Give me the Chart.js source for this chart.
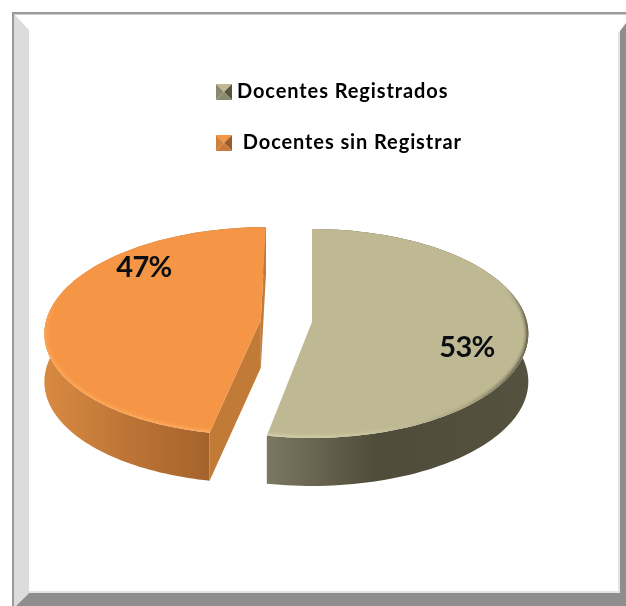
<!DOCTYPE html>
<html>
<head>
<meta charset="utf-8">
<style>html,body{margin:0;padding:0;background:#fff}canvas{display:block}</style>
<script src="https://cdn.jsdelivr.net/npm/chart.js@4"></script>
</head>
<body>
<canvas id="c" width="626" height="606" style="width:626px;height:606px"></canvas>
<script>
const categories = ['Docentes Registrados', ' Docentes sin Registrar'];
const values = [53, 47];
const topColors = ['#bfb993', '#f59646'];
const explodeShare = [0, 0.107];
const labelSpots = [[467, 348], [144, 268]];

const view = {cx: 312, cy: 322, rx: 215, ry: 103.2, k: 0.11, depth: 48};
function project(u, v, d) {
  const w = 1 - view.k * v;
  return [view.cx + view.rx * u / w, view.cy + view.ry * v / w + d];
}
function rimPoints(arc, d) {
  const R = arc.outerRadius, off = (arc.options.offset || 0) / R;
  const mid = (arc.startAngle + arc.endAngle) / 2;
  const ou = Math.cos(mid) * off, ov = Math.sin(mid) * off;
  const pts = [], n = 120;
  for (let i = 0; i <= n; i++) {
    const a = arc.startAngle + (arc.endAngle - arc.startAngle) * i / n;
    pts.push(project(Math.cos(a) + ou, Math.sin(a) + ov, d));
  }
  return {pts, apex: project(ou, ov, d)};
}
function poly(ctx, pts) {
  ctx.beginPath();
  pts.forEach((p, i) => i ? ctx.lineTo(p[0], p[1]) : ctx.moveTo(p[0], p[1]));
  ctx.closePath();
}
function grad(ctx, x0, x1, stops) {
  const g = ctx.createLinearGradient(x0, 0, x1, 0);
  stops.forEach(s => g.addColorStop(s[0], s[1]));
  return g;
}
const wallStyles = [
  c => grad(c, 268, 526, [[0, '#7b7761'], [0.42, '#4f4c3b'], [1, '#54513f']]),
  c => grad(c, 43, 209, [[0, '#d98a42'], [0.5, '#bd7536'], [1, '#a5632c']])
];
const rimStyles = [
  c => grad(c, 268, 528, [[0, '#dcd8b4'], [0.45, '#c9c4a0'], [0.75, '#a29d7c'], [1, '#3c3a2b']]),
  c => grad(c, 43, 209, [[0, '#ffab5c'], [1, '#ffb066']])
];
const rimFadeFrom = [285, 295];
const cutColors = ['#4f4c3b', '#c27a37'];

function bevelMarker(top, right, left, bottom) {
  const m = document.createElement('canvas');
  m.width = 16; m.height = 16;
  const c = m.getContext('2d');
  const tri = (pts, col) => { c.fillStyle = col; poly(c, pts); c.fill(); };
  tri([[0,0],[16,0],[8,8]], top);
  tri([[0,0],[0,16],[8,8]], left);
  tri([[16,0],[16,16],[8,8]], right);
  tri([[0,16],[16,16],[8,8]], bottom);
  return m;
}
const markers = [
  bevelMarker('#bfb993', '#57543f', '#8c8870', '#8a8870'),
  bevelMarker('#f59646', '#9c5c28', '#d0813b', '#c9793a')
];

const scenePlugin = {
  id: 'scene',
  beforeDraw(chart) {
    const c = chart.ctx;
    c.save();
    c.fillStyle = '#ffffff'; c.fillRect(0, 0, 626, 606);
    c.fillStyle = '#dcdcdc'; poly(c, [[14,14],[29,30],[29,593],[16,606],[14,606]]); c.fill();
    c.fillStyle = '#8e8e8e'; poly(c, [[29,593],[620,593],[620,31],[626,23],[626,606],[16,606]]); c.fill();
    c.fillStyle = '#e4e4e4';
    c.fillRect(29, 591, 591, 2); c.fillRect(618, 32, 2, 561);
    c.fillStyle = '#9a9a9a';
    c.fillRect(12, 12, 614, 2); c.fillRect(12, 12, 2, 594);
    c.fillStyle = '#cfcfcf';
    c.fillRect(14, 14, 612, 1);
    c.restore();
    c.letterSpacing = '0.9px';
  },
  beforeDatasetDraw(chart, args) {
    const c = chart.ctx, arcs = args.meta.data;
    arcs.forEach((arc, i) => {
      const top = rimPoints(arc, 0), low = rimPoints(arc, view.depth);
      const last = top.pts.length - 1;
      c.save();
      poly(c, top.pts.concat(low.pts.slice().reverse()));
      c.fillStyle = wallStyles[i](c); c.fill();
      const faces = [
        [top.pts[0], low.pts[0], -Math.cos(arc.startAngle)],
        [top.pts[last], low.pts[last], Math.cos(arc.endAngle)]
      ];
      faces.forEach(e => {
        if (e[2] < -0.01) return;
        poly(c, [top.apex, e[0], e[1], low.apex]);
        c.fillStyle = cutColors[i]; c.fill();
      });
      poly(c, [top.apex].concat(top.pts));
      c.fillStyle = arc.options.backgroundColor; c.fill();
      c.clip();
      c.lineJoin = 'round';
      c.strokeStyle = rimStyles[i](c);
      [[9, 0.14], [6, 0.22], [3.5, 0.45]].forEach(s => {
        c.lineWidth = s[0];
        for (let j = 1; j < top.pts.length; j++) {
          const a = top.pts[j - 1], b = top.pts[j];
          const fade = Math.max(0, Math.min(1, (a[1] - rimFadeFrom[i]) / 35));
          if (!fade) continue;
          c.globalAlpha = s[1] * fade;
          c.beginPath(); c.moveTo(a[0], a[1]); c.lineTo(b[0], b[1]); c.stroke();
        }
      });
      c.restore();
    });
    return false;
  },
  afterDatasetsDraw(chart) {
    const c = chart.ctx;
    c.save();
    c.letterSpacing = '-0.7px';
    c.font = 'bold 29px Lato, sans-serif';
    c.fillStyle = '#0a0d12';
    c.textAlign = 'center'; c.textBaseline = 'middle';
    values.forEach((v, i) => c.fillText(v + '%', labelSpots[i][0], labelSpots[i][1]));
    c.restore();
  },
  afterLayout(chart) {
    const l = chart.legend;
    l.left = 190; l.right = 480; l.top = 51; l.bottom = 300;
  }
};

new Chart(document.getElementById('c'), {
  type: 'pie',
  data: {
    labels: categories,
    datasets: [{
      data: values,
      backgroundColor: topColors,
      borderWidth: 0,
      offset: ctx => explodeShare[ctx.dataIndex] * ctx.chart.chartArea.width
    }]
  },
  options: {
    responsive: false,
    animation: false,
    events: [],
    layout: {padding: 0},
    plugins: {
      tooltip: {enabled: false},
      legend: {
        display: true,
        position: 'left',
        align: 'start',
        labels: {
          color: '#101828',
          font: {family: 'Lato, sans-serif', weight: 'bold', size: 20},
          boxWidth: 6,
          boxHeight: 16,
          padding: 31,
          usePointStyle: true,
          generateLabels: chart => categories.map((t, i) => ({
            text: t, pointStyle: markers[i], fillStyle: topColors[i],
            strokeStyle: topColors[i], lineWidth: 0, hidden: false, index: i
          }))
        }
      }
    }
  },
  plugins: [scenePlugin]
});
</script>
</body>
</html>
